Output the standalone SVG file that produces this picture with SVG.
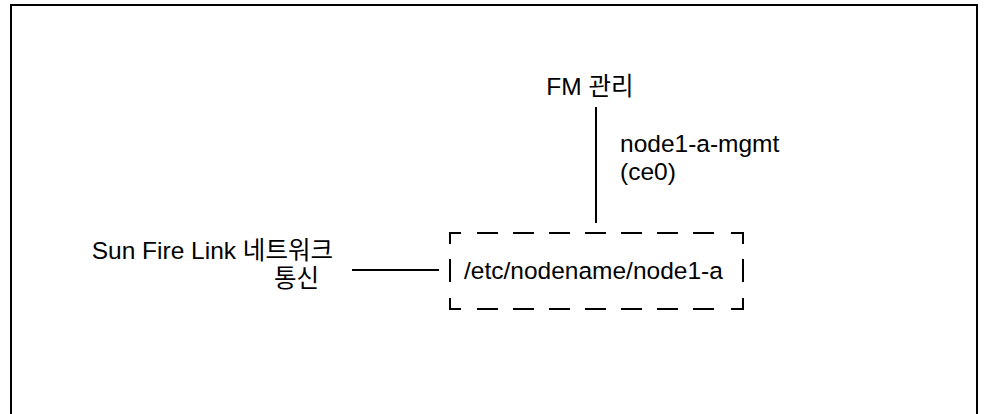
<svg xmlns="http://www.w3.org/2000/svg" width="985" height="414" viewBox="0 0 985 414">
<style>
.t{font-family:"Liberation Sans","Noto Sans CJK KR",Arial,sans-serif;font-size:24.5px;fill:#000}
.ln{stroke:#000;stroke-width:2;fill:none}
</style>
<rect x="0" y="0" width="985" height="414" fill="#fff"/>
<path class="ln" d="M11,414 V5 H977 V414"/>
<g id="fm">
<text class="t" x="590" y="95" text-anchor="middle">FM 관리</text>
</g>
<g id="node">
<path class="ln" d="M450,244 V233 H461 M731,233 H743 V244 M743,298 V309 H731 M461,309 H450 V298"/>
<path class="ln" stroke-dasharray="21 15" d="M477,233 H720 M477,309 H720"/>
<path class="ln" d="M450,259 V282 M743,259 V282"/>
<text class="t" x="464" y="279">/etc/nodename/node1-a</text>
</g>
<g id="sunfire">
<text class="t" x="333" y="259" text-anchor="end">Sun Fire Link 네트워크</text>
<text class="t" x="319" y="287" text-anchor="end">통신</text>
</g>
<g id="connectors">
<path class="ln" d="M596,107 V223"/>
<path class="ln" d="M352,270 H439"/>
<text class="t" x="620" y="152">node1-a-mgmt</text>
<text class="t" x="620" y="180">(ce0)</text>
</g>
</svg>
